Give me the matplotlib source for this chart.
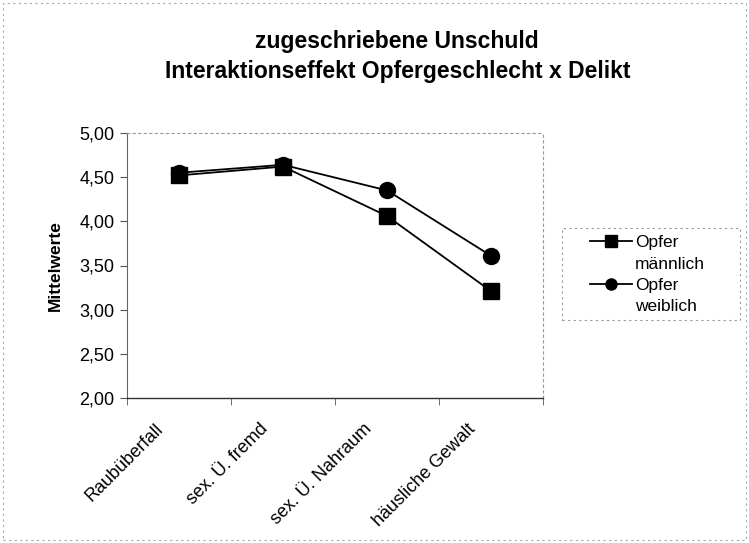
import matplotlib
matplotlib.use("Agg")
import matplotlib.pyplot as plt
from matplotlib.ticker import FuncFormatter, FixedLocator
from matplotlib.patches import Rectangle
from matplotlib.transforms import ScaledTranslation

categories = ["Raubüberfall", "sex. Ü. fremd", "sex. Ü. Nahraum", "häusliche Gewalt"]
maennlich = [4.52, 4.62, 4.06, 3.21]
weiblich = [4.55, 4.64, 4.35, 3.61]
series_labels = ["Opfer\nmännlich", "Opfer\nweiblich"]
title_lines = ["zugeschriebene Unschuld", "Interaktionseffekt Opfergeschlecht x Delikt"]
ylabel = "Mittelwerte"

plt.rcParams['font.family'] = ['Liberation Sans', 'DejaVu Sans']

W, H = 749, 543
fig = plt.figure(figsize=(W/100, H/100), dpi=100)
ax = fig.add_axes([127/W, 1-398/H, (543-127)/W, (398-133)/H])

x = list(range(len(categories)))
ax.plot(x, maennlich, color='black', lw=1.3, marker='s', markersize=11, label=series_labels[0], zorder=3)
ax.plot(x, weiblich, color='black', lw=1.3, marker='o', markersize=11.5, label=series_labels[1], zorder=3)

ax.set_xlim(-0.5, len(categories)-0.5)
ax.set_ylim(2.0, 5.0)
ax.yaxis.set_major_locator(FixedLocator([2.0, 2.5, 3.0, 3.5, 4.0, 4.5, 5.0]))
ax.yaxis.set_major_formatter(FuncFormatter(lambda v, p: f"{v:.2f}".replace('.', ',')))
ax.set_xticks(x)
ax.set_xticklabels(categories, rotation=45, ha='right', rotation_mode='anchor', fontsize=13)
ax.tick_params(axis='x', length=0, pad=16)
offset = ScaledTranslation(-24/100, 0, fig.dpi_scale_trans)
for lab in ax.get_xticklabels():
    lab.set_transform(lab.get_transform() + offset)
ax.set_xticks([i - 0.5 for i in range(len(categories)+1)], minor=True)
ax.tick_params(axis='x', which='minor', length=5, direction='out', color='#555555')
ax.tick_params(axis='y', labelsize=13, length=5, direction='out', color='#555555', pad=4)

for side in ['top', 'right']:
    ax.spines[side].set_color('#999999')
    ax.spines[side].set_linestyle((0, (2, 3)))
    ax.spines[side].set_linewidth(0.8)
ax.spines['left'].set_color('#666666')
ax.spines['left'].set_linewidth(0.8)
ax.spines['bottom'].set_color('#333333')
ax.spines['bottom'].set_linewidth(1.0)

ax.set_ylabel(ylabel, fontsize=12.5, fontweight='bold', labelpad=12)

fig.text(397/W, 1-48/H, title_lines[0], ha='center', va='baseline', fontsize=16.5, fontweight='bold')
fig.text(398/W, 1-78/H, title_lines[1], ha='center', va='baseline', fontsize=16.5, fontweight='bold')

# legend frame
fig.patches.append(Rectangle((562/W, 1-320/H), (740-562)/W, (320-228)/H, transform=fig.transFigure,
                             fill=False, edgecolor='#999999', lw=0.8, linestyle=(0, (2, 3))))
leg = fig.legend(loc='upper left', bbox_to_anchor=(590/W, 1-235/H), fontsize=12.5,
                 frameon=False, handlelength=2.4, handletextpad=0.2,
                 labelspacing=0.35, borderpad=0, borderaxespad=0)
for t in leg.get_texts():
    t.set_linespacing(1.55)
for h in leg.legend_handles:
    h.set_markersize(8)
try:
    for col in leg._legend_handle_box.get_children():
        for item in col.get_children():
            item.align = 'top'
except Exception:
    pass

fig.patches.append(Rectangle((3/W, 3/H), 743/W, 537/H, transform=fig.transFigure,
                             fill=False, edgecolor='#aaaaaa', lw=0.8, linestyle=(0, (2, 3))))

fig.savefig("out.png", dpi=100)
